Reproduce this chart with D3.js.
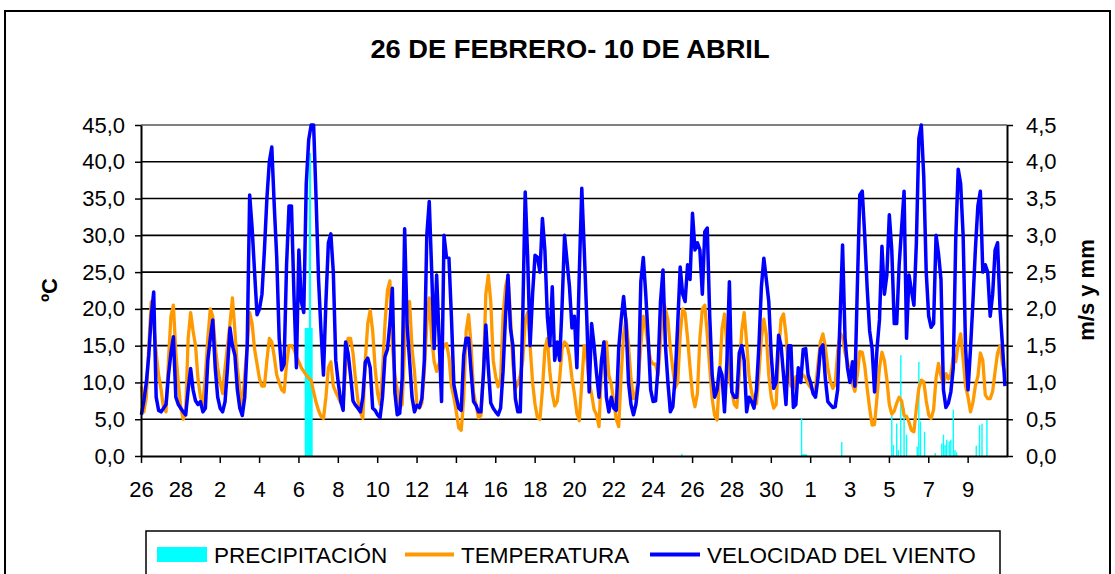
<!DOCTYPE html>
<html>
<head>
<meta charset="utf-8">
<script src="https://cdn.jsdelivr.net/npm/d3@7"></script>
<style>
  body { margin: 0; background: #fff; }
  text { font-family: Arial, "Liberation Sans", sans-serif; fill: #000; }
</style>
</head>
<body>
<svg id="chart" width="1115" height="574"></svg>
<script>
// Title and axis texts
var chartTitle = "26 DE FEBRERO- 10 DE ABRIL";
var leftTitle = "ºC";
var rightTitle = "m/s y mm";

// X tick labels, one every 48 hours (2 days) from 26 Feb
var dayLabels = ["26", "28", "2", "4", "6", "8", "10", "12", "14", "16", "18", "20",
                 "22", "24", "26", "28", "30", "1", "3", "5", "7", "9"];

// Temperature (ºC), read every 3 hours, one row per day (26 Feb .. 10 Apr)
var tempC = [
  [9.5, 6, 8, 15, 21, 18, 14, 11],
  [9, 6.5, 6, 13, 19, 20.5, 14, 10],
  [6.5, 5, 6, 16, 19.5, 17, 15, 10.5],
  [8, 7, 11, 16, 20, 19, 15, 12],
  [10, 8.5, 12, 15, 18, 21.5, 17, 12],
  [9, 6.5, 11, 15, 19.5, 18, 14.5, 12.5],
  [10.5, 9.5, 9.5, 13, 16, 15.5, 13.5, 11],
  [10, 9, 8.7, 12.5, 15, 15, 14.5, 13.5],
  [12.8, 12, 11.5, 11, 10.6, 10.3, 8.7, 7.3],
  [6.2, 5.4, 5.1, 8, 12, 12.8, 9.5, 8.7],
  [8, 7.2, 7, 12, 16, 16, 14, 10.5],
  [7.5, 6, 5.1, 13, 18, 19.8, 17, 12],
  [8.5, 7, 11.5, 18, 22.5, 23.8, 15, 11],
  [9, 6.5, 7, 15, 20.5, 21, 14.6, 11.5],
  [7, 6.5, 7.2, 11.5, 18, 21.5, 16, 12.8],
  [11.5, 12.5, 14, 15, 15.3, 13.5, 9.5, 8],
  [6, 3.8, 3.5, 7.8, 17, 19.2, 15, 8.7],
  [7, 5.2, 5.5, 11.5, 22, 24.6, 21, 13],
  [10.8, 9.4, 10.5, 19, 23, 24.5, 19.2, 12.5],
  [9.2, 9.8, 11, 13, 18.5, 19.5, 15, 10],
  [7, 5.2, 5, 9, 14.5, 16, 11.5, 8.5],
  [6.8, 7.4, 10.5, 14.6, 15.5, 15.1, 13.5, 10.6],
  [8.5, 5.8, 4.8, 10, 15, 13.5, 10, 8.4],
  [6.3, 5.6, 4, 12, 15.5, 15.5, 11, 9.7],
  [7.4, 5, 4, 11, 16.5, 18.7, 15, 10.5],
  [7.8, 8.5, 10.5, 15, 19, 17.5, 14.8, 13],
  [12.5, 12.5, 11, 15.5, 21, 20, 18.5, 14.6],
  [11.8, 9.3, 10, 16.5, 20, 19.4, 16, 12],
  [8.3, 6.7, 8.5, 16, 20, 20.5, 16.5, 12],
  [7.8, 5.5, 4.9, 11, 17.3, 19.3, 15, 10.5],
  [8.8, 7, 6.6, 11, 17, 19.5, 15.5, 10.8],
  [8.7, 7.3, 7.1, 11.2, 16, 18.6, 16.5, 11],
  [8, 6.5, 7, 14, 18.6, 19.3, 16.5, 12],
  [9.5, 9.2, 10.8, 10.2, 10.5, 11, 10.6, 9.8],
  [9.3, 8.8, 9.2, 12.5, 15.5, 16.6, 14.8, 12],
  [10.2, 9.2, 9.8, 14.2, 16.7, 16.2, 14, 12.8],
  [11.2, 9.8, 8.8, 11, 14.2, 14.1, 12.3, 9.2],
  [6.5, 4.2, 4.3, 8, 12, 14.1, 13, 10.4],
  [7, 5.7, 6.1, 7.2, 8, 7.5, 5.5, 5.4],
  [4.6, 3.5, 3.3, 6.5, 9.2, 10.3, 10.1, 7.5],
  [5.6, 5.1, 6.3, 10.6, 12.6, 10.9, 9.7, 11.2],
  [10.5, 11.2, 13.4, 12.8, 15.2, 16.6, 13.2, 9.5],
  [8, 6, 7.3, 9.6, 10.8, 14, 13, 8.3],
  [7.8, 7.8, 8.8, 11.5, 14, 15, 12.5, 11.3]
];

// Wind speed (m/s), same 3-hour steps
var windMs = [
  [0.56, 0.75, 1.0, 1.37, 1.9, 2.23, 0.8, 0.62],
  [0.6, 0.65, 0.7, 1.1, 1.4, 1.62, 0.8, 0.7],
  [0.65, 0.6, 0.56, 0.9, 1.19, 0.9, 0.75, 0.7],
  [0.74, 0.6, 0.65, 1.3, 1.6, 1.85, 1.2, 0.8],
  [0.65, 0.6, 0.74, 1.2, 1.74, 1.5, 1.37, 0.9],
  [0.65, 0.55, 0.8, 1.5, 3.55, 3.1, 2.5, 1.92],
  [2.0, 2.2, 2.8, 3.5, 4.0, 4.2, 3.4, 2.7],
  [1.6, 1.17, 1.25, 2.6, 3.4, 3.4, 2.2, 1.2],
  [2.8, 2.1, 1.95, 3.7, 4.3, 4.5, 4.5, 3.5],
  [2.4, 1.7, 1.1, 2.1, 2.9, 3.02, 2.5, 1.3],
  [1.0, 0.75, 0.62, 1.55, 1.4, 1.1, 0.75, 0.69],
  [0.65, 0.6, 0.8, 1.28, 1.33, 1.2, 0.65, 0.62],
  [0.56, 0.52, 0.8, 1.35, 1.45, 1.8, 2.28, 0.87],
  [0.56, 0.58, 1.06, 3.09, 1.78, 1.3, 0.8, 0.6],
  [0.69, 0.66, 0.78, 1.3, 3.0, 3.46, 2.5, 1.46],
  [2.46, 1.6, 0.74, 3.0, 2.7, 2.69, 1.9, 0.97],
  [0.8, 0.65, 0.62, 1.37, 1.6, 1.6, 1.15, 0.74],
  [0.69, 0.6, 0.6, 1.1, 1.78, 1.2, 0.72, 0.65],
  [0.6, 0.56, 0.65, 1.15, 1.9, 2.46, 1.74, 1.5],
  [0.78, 0.6, 0.6, 1.9, 3.59, 2.7, 1.5, 2.2],
  [2.73, 2.7, 2.5, 3.23, 2.8, 1.9, 1.5, 2.3],
  [1.3, 1.55, 1.3, 2.05, 3.0, 2.65, 2.3, 1.74],
  [1.9, 1.2, 2.5, 3.64, 2.8, 1.9, 0.87, 1.8],
  [1.5, 1.12, 0.8, 1.3, 1.55, 0.8, 0.6, 0.8],
  [0.65, 0.62, 1.46, 1.85, 2.17, 1.8, 1.0, 0.7],
  [0.56, 0.7, 1.0, 2.37, 2.7, 2.2, 1.6, 0.9],
  [0.74, 0.75, 1.2, 2.1, 2.53, 1.5, 1.0, 0.6],
  [0.67, 1.1, 1.8, 2.57, 2.2, 2.1, 2.6, 2.4],
  [3.3, 2.8, 2.9, 2.8, 2.2, 3.05, 3.1, 1.9],
  [1.1, 0.8, 0.9, 1.2, 1.1, 0.6, 1.3, 2.37],
  [0.87, 0.8, 0.8, 1.4, 1.5, 1.3, 0.6, 0.8],
  [0.74, 0.65, 0.9, 1.5, 2.3, 2.69, 2.4, 2.1],
  [1.37, 0.92, 1.0, 1.64, 1.5, 1.1, 0.7, 1.5],
  [1.5, 0.66, 0.7, 1.2, 1.0, 1.45, 1.46, 1.1],
  [1.0, 0.85, 0.8, 1.06, 1.46, 1.51, 1.05, 0.74],
  [0.7, 0.66, 0.67, 0.9, 1.9, 2.87, 1.6, 1.2],
  [1.0, 1.28, 0.95, 2.3, 3.55, 3.6, 3.0, 2.28],
  [1.7, 1.46, 0.87, 1.46, 1.85, 2.85, 2.2, 2.46],
  [3.28, 2.8, 1.8, 1.8, 2.6, 3.1, 3.6, 1.6],
  [2.46, 2.25, 2.05, 2.9, 4.32, 4.5, 3.8, 2.5],
  [1.9, 1.75, 1.8, 3.0, 2.75, 2.4, 0.9, 0.66],
  [0.72, 0.87, 1.2, 2.95, 3.9, 3.7, 3.0, 1.46],
  [0.9, 1.46, 2.1, 2.82, 3.4, 3.6, 2.5, 2.6],
  [2.5, 1.9, 2.2, 2.8, 2.9, 2.0, 1.5, 0.95]
];

// Precipitation (mm): hour since 26 Feb 00h and amount, only hours with rain
var precipHour = [200, 201, 202, 203, 204, 205, 206, 207, 208, 659,
                  805, 806, 807, 808, 809, 810, 811, 854,
                  915, 917, 921, 923, 926, 930, 933, 946, 948, 950, 955,
                  968, 976, 978, 980, 982, 985, 987, 990, 992, 994,
                  1018, 1022, 1025, 1031];
var precipMm = [1.74, 1.74, 1.74, 1.74, 1.74, 4.12, 4.12, 1.74, 1.74, 0.03,
                0.51, 0.02, 0.02, 0.02, 0.02, 0.02, 0.02, 0.19,
                0.55, 0.15, 0.44, 0.08, 1.37, 0.65, 0.29, 0.13, 1.28, 0.47, 0.33,
                0.04, 0.17, 0.29, 0.15, 0.22, 0.2, 0.22, 0.63, 0.08, 0.05,
                0.14, 0.42, 0.44, 0.49];

var legendNames = ["PRECIPITACIÓN", "TEMPERATURA", "VELOCIDAD DEL VIENTO"];
var colors = {precip: "#00ffff", temp: "#ff9900", wind: "#0000ff"};

var totalHours = 44 * 24;
var step = 3;

var svg = d3.select("#chart");

// Scales
var x = d3.scaleLinear().domain([0, totalHours]).range([141, 1007]);
var yT = d3.scaleLinear().domain([0, 45]).range([456, 125]);
var yW = d3.scaleLinear().domain([0, 4.5]).range([456, 125]);
var comma = function(d) { return d3.format(".1f")(d).replace(".", ","); };

// Outer chart border
svg.append("rect")
    .attr("x", 5).attr("y", 11)
    .attr("width", 1105).attr("height", 620)
    .attr("fill", "#fff")
    .attr("stroke", "#000").attr("stroke-width", 2);

// Title (Excel draws it a bit wider than Arial)
svg.append("text")
    .attr("transform", "translate(570,58) scale(1.05,1)")
    .attr("text-anchor", "middle")
    .style("font-size", "26px").style("font-weight", "bold")
    .text(chartTitle);

// Gridlines
svg.append("g").selectAll("line")
    .data(d3.range(5, 45, 5))
    .enter().append("line")
    .attr("x1", 141).attr("x2", 1007)
    .attr("y1", function(d) { return yT(d); })
    .attr("y2", function(d) { return yT(d); })
    .attr("stroke", "#000").attr("stroke-width", 1.6);

// Plot top border
svg.append("line")
    .attr("x1", 141).attr("x2", 1007).attr("y1", 125).attr("y2", 125)
    .attr("stroke", "#808080").attr("stroke-width", 2);

// Precipitation columns
var precip = precipHour.map(function(h, i) { return {h: h, v: precipMm[i]}; });
svg.append("g").selectAll("rect")
    .data(precip)
    .enter().append("rect")
    .attr("x", function(d) { return x(d.h + 0.5) - 0.7; })
    .attr("width", 1.4)
    .attr("y", function(d) { return yW(d.v); })
    .attr("height", function(d) { return yW(0) - yW(d.v); })
    .attr("fill", colors.precip);

// Lines
var tempFlat = d3.merge(tempC);
var windFlat = d3.merge(windMs);

var tempLine = d3.line()
    .x(function(d, i) { return x(i * step + 0.5); })
    .y(function(d) { return yT(d); });
var windLine = d3.line()
    .x(function(d, i) { return x(i * step + 0.5); })
    .y(function(d) { return yW(d); });

svg.append("path")
    .datum(tempFlat)
    .attr("d", tempLine)
    .attr("fill", "none")
    .attr("stroke", colors.temp).attr("stroke-width", 3.3)
    .attr("stroke-linejoin", "round");

svg.append("path")
    .datum(windFlat)
    .attr("d", windLine)
    .attr("fill", "none")
    .attr("stroke", colors.wind).attr("stroke-width", 3.5)
    .attr("stroke-linejoin", "round");

// Axes
var leftAxis = d3.axisLeft(yT)
    .tickValues(d3.range(0, 46, 5))
    .tickFormat(comma)
    .tickSize(6).tickSizeOuter(0).tickPadding(10);
var rightAxis = d3.axisRight(yW)
    .tickValues(d3.range(0, 4.6, 0.5))
    .tickFormat(comma)
    .tickSize(6).tickSizeOuter(0).tickPadding(13);
var bottomAxis = d3.axisBottom(x)
    .tickValues(d3.range(0, totalHours, 48))
    .tickFormat(function(d, i) { return dayLabels[i]; })
    .tickSize(7).tickSizeOuter(0).tickPadding(18);

function styleAxis(g) {
    g.selectAll("path").attr("stroke", "#000").attr("stroke-width", 2);
    g.selectAll("line").attr("stroke", "#000").attr("stroke-width", 1.5);
    g.selectAll("text").style("font-size", "22px");
    g.attr("font-family", null);
}

svg.append("g").attr("transform", "translate(141,0)").call(leftAxis).call(styleAxis);
svg.append("g").attr("transform", "translate(1007,0)").call(rightAxis).call(styleAxis);
svg.append("g").attr("transform", "translate(0,456)").call(bottomAxis).call(styleAxis);

// Axis titles
svg.append("text")
    .attr("transform", "translate(57,290) rotate(-90)")
    .attr("text-anchor", "middle")
    .style("font-size", "22px").style("font-weight", "bold")
    .text(leftTitle);
svg.append("text")
    .attr("transform", "translate(1094,290) rotate(-90)")
    .attr("text-anchor", "middle")
    .style("font-size", "22px").style("font-weight", "bold")
    .text(rightTitle);

// Legend
var legend = svg.append("g");
legend.append("rect")
    .attr("x", 146).attr("y", 531)
    .attr("width", 854).attr("height", 80)
    .attr("fill", "#fff")
    .attr("stroke", "#000").attr("stroke-width", 1.5);

legend.append("rect")
    .attr("x", 157).attr("y", 547).attr("width", 50).attr("height", 15)
    .attr("fill", colors.precip);
legend.append("line")
    .attr("x1", 405).attr("x2", 454).attr("y1", 554.5).attr("y2", 554.5)
    .attr("stroke", colors.temp).attr("stroke-width", 4);
legend.append("line")
    .attr("x1", 650).attr("x2", 700).attr("y1", 554.5).attr("y2", 554.5)
    .attr("stroke", colors.wind).attr("stroke-width", 4);

var legendX = [214, 461, 707];
legend.selectAll("text.leg")
    .data(legendNames)
    .enter().append("text")
    .attr("class", "leg")
    .attr("x", function(d, i) { return legendX[i]; })
    .attr("y", 563)
    .style("font-size", "22.5px")
    .text(function(d) { return d; });
</script>
</body>
</html>
